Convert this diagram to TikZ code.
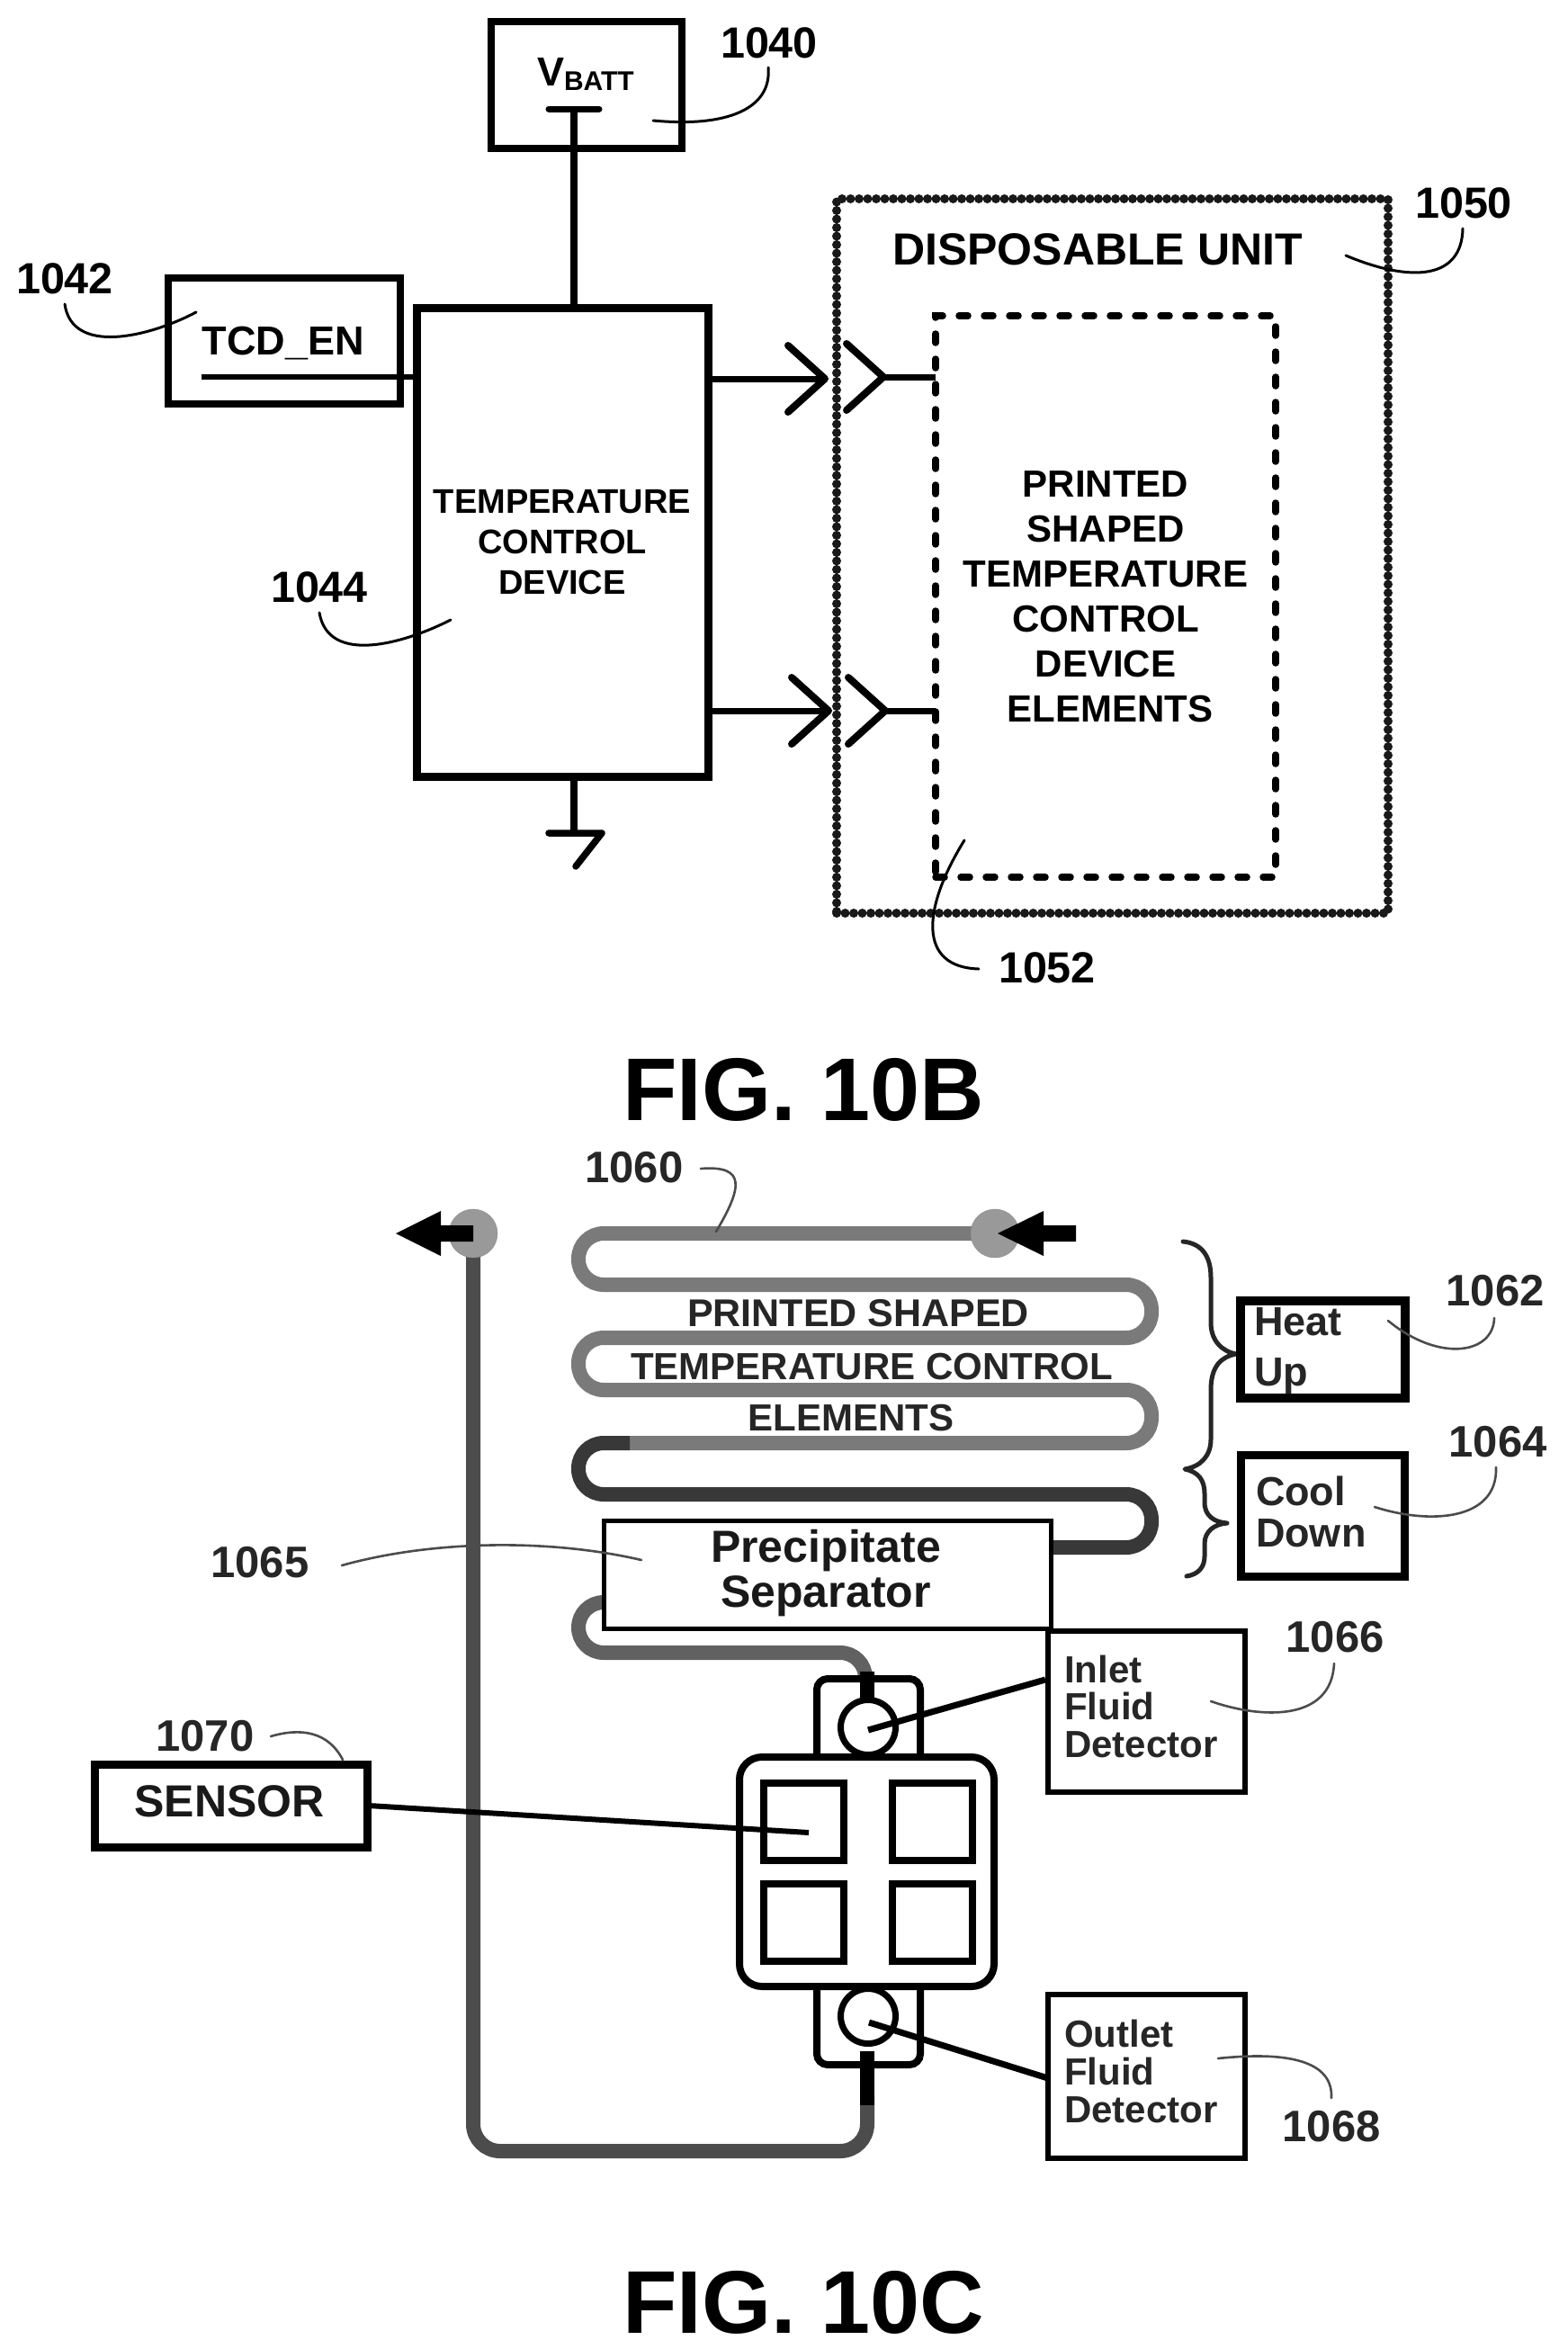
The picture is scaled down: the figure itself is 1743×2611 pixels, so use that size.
\documentclass[tikz,border=0pt]{standalone}
\usepackage{fontspec}
\setmainfont{Liberation Sans}
\newcommand{\fsz}[2]{\fontsize{#1}{#2}\selectfont\bfseries}
\tikzset{
  every node/.style={inner sep=0pt,outer sep=0pt},
  bx/.style={draw=black,rectangle,fill=white},
  hw/.style={draw=black,line width=#1,line cap=round,line join=round},
  hw/.default=8pt,
  lead/.style={draw=black,line width=3pt,line cap=round},
  leadb/.style={draw=black!70,line width=2.6pt,line cap=round},
  num/.style={font=\fsz{48.5}{49},text=black},
  numb/.style={font=\fsz{49}{49},text=black!85},
  wrd/.style={font=\fsz{45}{45},text=black!85},
  pipe/.style={draw=black!52,line width=16pt,rounded corners=28pt},
  pipedark/.style={draw=black!78,line width=16pt,rounded corners=28pt},
  port/.style={circle,draw=black!45,fill=black!40,minimum size=54pt},
  flow/.style={fill=black},
  brc/.style={draw=black!85,line width=5pt,line cap=round,line join=round},
  sq/.style={draw=black,rectangle,line width=8pt,minimum width=89pt,minimum height=86pt,fill=white},
  det/.style={font=\fsz{42}{42},text=black!85,anchor=base west},
}
\begin{document}
\begin{tikzpicture}[x=1pt,y=-1pt]
\path[use as bounding box,fill=white] (0,0) rectangle (1743,2611);

% ---------- FIG 10B ----------
\node[bx,line width=8pt,minimum width=212pt,minimum height=141pt] (vbatt) at (652,94.5) {};
\node[anchor=base west,font=\fsz{45}{45}] (vbatttext) at (597,95) {V\raisebox{-5pt}{\fsz{30}{30}BATT}};
\node[bx,line width=8pt,minimum width=258pt,minimum height=140pt] (tcden) at (316,379) {};
\node[anchor=base,font=\fsz{45}{45}] (tcdentext) at (315,394) {TCD\_EN};
\node[bx,line width=9pt,minimum width=324pt,minimum height=521pt,align=center,font=\fsz{38}{45}] (tcd) at (625,603)
  {TEMPERATURE\\CONTROL\\DEVICE};

\coordinate (vtop) at (638,121);
\draw[hw,line cap=butt] (vtop) -- (vtop |- tcd.north);
\draw[hw=7pt] ([xshift=-28pt]vtop) -- ([xshift=28pt]vtop);
\coordinate (enstart) at (224,419);
\draw[hw=6.5pt,line cap=butt] (enstart) -- (enstart -| tcd.west);
\coordinate (gnd) at (638,926);
\draw[hw,line cap=butt] (tcd.south -| gnd) -- (gnd);
\draw[hw=7.5pt] ([xshift=-28pt]gnd) -- ([xshift=31pt]gnd) -- ++(-29,37);

\node[draw=black!90,rectangle,line width=10pt,dash pattern=on 0pt off 9.5pt,line cap=round,minimum width=613pt,minimum height=794pt] (unit) at (1236.5,618) {};
\node[anchor=center,font=\fsz{50}{50}] (unittext) at (1220,277) {DISPOSABLE UNIT};
\node[draw=black,rectangle,line width=7.5pt,dash pattern=on 10pt off 18pt,line cap=round,minimum width=378pt,minimum height=624pt,align=center,font=\fsz{42}{50}] (inner) at (1229,663)
  {PRINTED\\SHAPED\\TEMPERATURE\\CONTROL\\DEVICE\\\hspace*{10pt}ELEMENTS};

\coordinate (tipa) at (917,421);
\coordinate (tipb) at (921,790);
\coordinate (jcta) at (982,419);
\coordinate (jctb) at (984,790);
\draw[hw=7pt,line cap=butt] (tipa -| tcd.east) -- (tipa);
\draw[hw=7pt,line cap=butt] (tipb -| tcd.east) -- (tipb);
\draw[hw] ([shift={(-41,-37)}]tipa) -- (tipa) -- ([shift={(-41,37)}]tipa);
\draw[hw] ([shift={(-41,-37)}]tipb) -- (tipb) -- ([shift={(-41,37)}]tipb);
\draw[hw] ([shift={(-41,-37)}]jcta) -- (jcta) -- ([shift={(-41,37)}]jcta);
\draw[hw] ([shift={(-41,-37)}]jctb) -- (jctb) -- ([shift={(-41,37)}]jctb);
\draw[hw=7pt,line cap=butt] (jcta) -- (jcta -| inner.west);
\draw[hw=7pt,line cap=butt] (jctb) -- (jctb -| inner.west);

\node[num] (n1040) at (855,48) {1040};
\node[num] (n1042) at (72,310) {1042};
\node[num] (n1044) at (355,653) {1044};
\node[num] (n1050) at (1627,226) {1050};
\node[num] (n1052) at (1164,1076) {1052};

\coordinate (e1040) at (726,134);
\coordinate (e1042) at (218,347);
\coordinate (e1044) at (501,689);
\coordinate (e1050) at (1496,284);
\coordinate (e1052) at (1072,934);
\draw[lead] (854,75) .. controls (858,120) and (810,142) .. (e1040);
\draw[lead] (72,338) .. controls (80,395) and (165,375) .. (e1042);
\draw[lead] (355,681) .. controls (365,740) and (450,715) .. (e1044);
\draw[lead] (1626,254) .. controls (1625,310) and (1570,315) .. (e1050);
\draw[lead] (1088,1077) .. controls (1020,1075) and (1025,1010) .. (e1052);

\node[font=\fsz{99}{99}] (figb) at (893,1211) {FIG. 10B};

% ---------- FIG 10C pipes ----------
\coordinate (inport) at (1106,1371);
\coordinate (outport) at (526,1371);
\coordinate (bendd) at (700,1604);
\coordinate (sepin) at (1169,1720);
\coordinate (sepout) at (672,1781);
\coordinate (hin) at (964,1870);
\coordinate (hout) at (964,2280);

\draw[pipe] (inport) -- (643,1371) -- (643,1428) -- (1280,1428) -- (1280,1487) -- (643,1487) -- (643,1545) -- (1280,1545) -- (1280,1604) -- (bendd);
\draw[pipedark] (bendd) -- (643,1604) -- (643,1661) -- (1280,1661) -- (1280,1720) -- (sepin);
\draw[draw=black!62,line width=16pt,rounded corners=28pt] (sepout) -- (643,1781) -- (643,1837) -- (962,1837) -- (962,1862);
\draw[draw=black!70,line width=16pt,rounded corners=30pt] (outport) -- (526,2391) -- (964,2391) -- (964,2330);
\draw[draw=black,line width=16pt] (hout) -- (964,2340);
\draw[draw=black,line width=16pt] (964,1858) -- (964,1895);

\node[port] (pin) at (inport) {};
\node[port] (pout) at (outport) {};
\fill[flow] (1109,1371) -- (1160,1346) -- (1160,1362) -- (1196,1362) -- (1196,1380) -- (1160,1380) -- (1160,1396) -- cycle;
\fill[flow] (440,1371) -- (490,1346) -- (490,1362) -- (526,1362) -- (526,1380) -- (490,1380) -- (490,1396) -- cycle;

\node[font=\fsz{43}{44},text=black!85] (t1) at (954,1460) {PRINTED SHAPED};
\node[font=\fsz{42}{42},text=black!85] (t2) at (969,1519) {TEMPERATURE CONTROL};
\node[font=\fsz{42}{42},text=black!85] (t3) at (946,1576) {ELEMENTS};

% separator
\node[bx,line width=5pt,minimum width=497pt,minimum height=120pt] (sep) at (919.5,1750.5) {};
\node[anchor=base,font=\fsz{50}{50},text=black!90] (septa) at (918,1736) {Precipitate};
\node[anchor=base,font=\fsz{50}{50},text=black!90] (septb) at (918,1786) {Separator};

% braces
\draw[brc] (1315,1380) .. controls (1335,1382) and (1346,1395) .. (1346,1420) -- (1346,1470) .. controls (1346,1490) and (1358,1502) .. (1374,1505) .. controls (1358,1508) and (1346,1518) .. (1346,1545) -- (1346,1600) .. controls (1346,1618) and (1335,1630) .. (1317,1633) .. controls (1332,1636) and (1339,1645) .. (1339,1660) -- (1339,1670) .. controls (1339,1685) and (1350,1692) .. (1364,1693) .. controls (1350,1694) and (1339,1702) .. (1339,1716) -- (1339,1730) .. controls (1339,1742) and (1332,1750) .. (1319,1752);

% heat/cool
\node[bx,line width=10pt,minimum width=183pt,minimum height=108pt] (heat) at (1470.5,1500) {};
\node[bx,line width=9pt,minimum width=182pt,minimum height=135pt] (cool) at (1470,1685) {};
\node[wrd,anchor=base west] (heatt) at (1394,1484) {Heat};
\node[wrd,anchor=base west] (upt) at (1394,1540) {Up};
\node[wrd,anchor=base west] (coolt) at (1396,1673) {Cool};
\node[wrd,anchor=base west] (downt) at (1396,1719) {Down};

% detectors
\node[bx,line width=6pt,minimum width=219pt,minimum height=179pt] (indet) at (1274.5,1902.5) {};
\node[bx,line width=6pt,minimum width=219pt,minimum height=182pt] (outdet) at (1274.5,2308) {};
\node[det] (it1) at (1183,1870) {Inlet};
\node[det] (it2) at (1183,1911) {Fluid};
\node[det] (it3) at (1183,1953) {Detector};
\node[det] (ot1) at (1183,2275) {Outlet};
\node[det] (ot2) at (1183,2317) {Fluid};
\node[det] (ot3) at (1183,2359) {Detector};

% sensor and cartridge
\node[bx,line width=9pt,minimum width=303pt,minimum height=92pt,text=black!90] (sensor) at (256.5,2007) {};
\node[font=\fsz{50}{50},text=black!90] (sensortext) at (255,2002) {SENSOR};

\draw[draw=black,line width=8pt,rounded corners=12pt] (908,1951) -- (908,1866) -- (1023,1866) -- (1023,1951);
\draw[draw=black,line width=8pt,rounded corners=12pt] (908,2210) -- (908,2295) -- (1023,2295) -- (1023,2210);
\node[circle,draw=black,fill=white,line width=7pt,minimum size=61pt] (incirc) at (965,1920) {};
\node[circle,draw=black,fill=white,line width=7pt,minimum size=61pt] (outcirc) at (965,2241) {};
\node[draw=black,fill=white,rectangle,rounded corners=25pt,line width=8pt,minimum width=283pt,minimum height=255pt] (cart) at (963.5,2080.5) {};
\node[sq] (s1) at (893.5,2024.5) {};
\node[sq] (s2) at (1036,2024.5) {};
\node[sq] (s3) at (893.5,2137) {};
\node[sq] (s4) at (1036,2137) {};

\coordinate (infoot) at (965,1923);
\coordinate (outfoot) at (966,2248);
\coordinate (sfoot) at (899,2037);
\coordinate (inhead) at (1162,1867);
\coordinate (outhead) at (1165,2310);
\coordinate (shead) at (410,2007);
\draw[draw=black,line width=7pt] (inhead) -- (infoot);
\draw[draw=black,line width=7pt] (outhead) -- (outfoot);
\draw[draw=black,line width=6pt] (shead) -- (sfoot);

\node[numb] (n1060) at (705,1298) {1060};
\node[numb] (n1062) at (1662,1435) {1062};
\node[numb] (n1064) at (1665,1603) {1064};
\node[numb] (n1065) at (289,1737) {1065};
\node[numb] (n1066) at (1484,1820) {1066};
\node[numb] (n1068) at (1480,2364) {1068};
\node[numb] (n1070) at (228,1930) {1070};

\coordinate (e1060) at (796,1369);
\coordinate (e1062) at (1543,1468);
\coordinate (e1064) at (1528,1675);
\coordinate (e1065) at (713,1734);
\coordinate (e1066) at (1346,1891);
\coordinate (e1068) at (1354,2288);
\coordinate (e1070) at (381,1956);
\draw[leadb] (779,1299) .. controls (830,1295) and (825,1320) .. (e1060);
\draw[leadb] (1661,1465) .. controls (1660,1505) and (1600,1515) .. (e1062);
\draw[leadb] (1663,1631) .. controls (1665,1690) and (1590,1695) .. (e1064);
\draw[leadb] (380,1740) .. controls (480,1712) and (610,1710) .. (e1065);
\draw[leadb] (1483,1849) .. controls (1480,1915) and (1400,1910) .. (e1066);
\draw[leadb] (1480,2332) .. controls (1482,2290) and (1430,2280) .. (e1068);
\draw[leadb] (301,1930) .. controls (335,1920) and (365,1925) .. (e1070);

\node[font=\fsz{99}{99}] (figc) at (893,2559) {FIG. 10C};
\end{tikzpicture}
\end{document}
